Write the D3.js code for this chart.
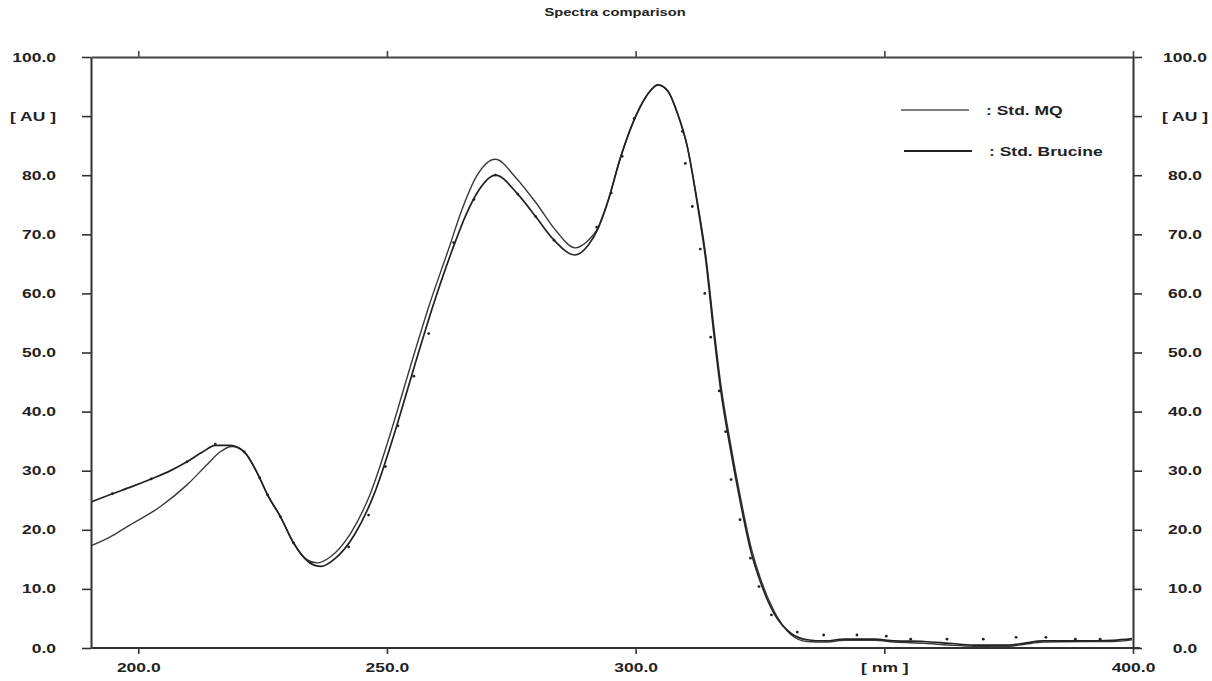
<!DOCTYPE html>
<html>
<head>
<meta charset="utf-8">
<script src="https://cdn.jsdelivr.net/npm/d3@7"></script>
<style>
	body { margin: 0; background: #fff; }
	svg { display: block; }
	text { font-family: "Liberation Sans", Arial, sans-serif; fill: #222; }
</style>
</head>
<body>
<svg id="chart" width="1212" height="681"></svg>
<script>
"use strict";

// Std. Brucine (the curve with the sample dots)
var brucineNm = [190.5, 194.8, 198.7, 202.6, 206.0, 209.8, 213.0, 215.5, 218.5, 221.3, 224.4, 226.0, 228.6, 231.2, 234.2, 236.8, 239.4, 243.5, 247.5, 251.5, 255.5, 259.3, 263.2, 266.0, 268.5, 271.8, 276.3, 279.9, 283.6, 287.8, 290.5, 292.3, 294.3, 297.0, 300.3, 302.5, 304.5, 306.5, 308.4, 310.4, 312.4, 314.1, 315.8, 317.1, 319.1, 321.1, 323.1, 325.2, 327.8, 331.2, 334.5, 338, 342, 348, 352, 358, 363, 368, 375, 378, 382, 390, 396, 400];
var brucineAU = [24.7, 26.1, 27.3, 28.6, 29.8, 31.5, 33.2, 34.3, 34.3, 33.2, 28.8, 25.9, 22.2, 17.8, 14.6, 13.8, 15.0, 19.2, 26.2, 36.3, 47.6, 58.0, 67.5, 73.5, 77.5, 80.0, 76.8, 73.0, 69.0, 66.5, 68.2, 70.7, 75.2, 83.1, 90.5, 93.8, 95.3, 94.2, 90.5, 84.8, 75.2, 65.7, 52.7, 43.7, 33.5, 24.5, 16.6, 10.9, 5.9, 2.5, 1.4, 1.2, 1.5, 1.5, 1.2, 1.1, 0.8, 0.5, 0.5, 0.8, 1.2, 1.2, 1.3, 1.6];

// Std. MQ
var mqNm = [190.5, 194.4, 197.7, 204.4, 209.8, 213.8, 216.5, 218.8, 221.3, 224.4, 226.0, 228.6, 231.2, 234.0, 236.0, 238.6, 242.7, 246.7, 250.7, 254.7, 258.5, 262.4, 265.0, 268.0, 271.8, 276.0, 280.0, 284.0, 287.8, 290.5, 292.3, 294.3, 297.0, 300.3, 302.5, 304.5, 306.5, 308.4, 310.4, 312.4, 314.1, 315.8, 317.1, 319.1, 321.1, 323.1, 325.2, 327.8, 331.2, 334.5, 338, 342, 348, 352, 358, 363, 368, 375, 378, 382, 390, 396, 400];
var mqAU = [17.3, 18.8, 20.5, 23.9, 27.6, 31.0, 33.2, 34.1, 33.2, 28.8, 25.9, 22.2, 17.8, 14.9, 14.4, 15.4, 19.4, 26.2, 36.3, 47.6, 58.0, 67.5, 74.0, 79.8, 82.7, 79.5, 75.3, 70.6, 67.7, 69.0, 70.9, 75.3, 83.1, 90.5, 93.8, 95.3, 94.2, 90.5, 84.8, 75.6, 66.5, 53.8, 44.8, 34.5, 25.4, 17.4, 11.5, 6.3, 2.3, 1.1, 1.0, 1.3, 1.3, 1.0, 0.8, 0.5, 0.3, 0.3, 0.6, 1.0, 1.1, 1.1, 1.4];

// sample dots
var dotNm = [194.8, 202.6, 209.8, 215.5, 221.3, 224.4, 226.0, 228.6, 231.2, 234.6, 242.3, 246.3, 249.7, 252.2, 255.4, 258.4, 263.4, 267.5, 271.8, 276.3, 279.9, 283.6, 292.2, 295.1, 297.3, 299.7, 309.4, 310.0, 311.4, 313.0, 313.9, 315.1, 316.8, 318.1, 319.2, 321.0, 323.1, 324.8, 327.3, 332.5, 337.8, 344.5, 350.4, 355.3, 362.6, 369.9, 376.5, 382.5, 388.4, 393.4];
var dotAU = [26.1, 28.6, 31.5, 34.5, 33.2, 28.8, 25.9, 22.2, 17.8, 14.4, 17.1, 22.5, 30.7, 37.6, 46.0, 53.2, 68.6, 75.9, 80.0, 76.8, 73.0, 69.0, 71.2, 77.0, 83.2, 89.6, 87.4, 82.0, 74.7, 67.5, 60.0, 52.6, 43.5, 36.6, 28.5, 21.7, 15.2, 10.4, 5.6, 2.7, 2.2, 2.2, 2.0, 1.5, 1.5, 1.5, 1.8, 1.8, 1.5, 1.5];

var xTicks = [200, 250, 300, 350, 400];
var xTickLabels = ["200.0", "250.0", "300.0", "[ nm ]", "400.0"];
var yTicks = [0, 10, 20, 30, 40, 50, 60, 70, 80, 90, 100];
var yTickLabels = ["0.0", "10.0", "20.0", "30.0", "40.0", "50.0", "60.0", "70.0", "80.0", "[ AU ]", "100.0"];

var legendNames = [": Std. MQ", ": Std. Brucine"];

var SX = 1.4; // the picture is stretched sideways

var svg = d3.select("#chart");
var x = d3.scaleLinear().domain([190.5, 400]).range([91, 1133]);
var y = d3.scaleLinear().domain([0, 100]).range([648, 57]);

function zip(a, b) { return a.map((v, i) => [v, b[i]]); }

// title
svg.append("text")
   .attr("transform", "translate(615,16) scale(" + SX + ",1)")
   .attr("text-anchor", "middle")
   .style("font-size", "10.5px")
   .style("font-weight", "bold")
   .text("Spectra comparison");

// axes
function styleAxis(g, w, col) {
	g.select(".domain").attr("stroke", col).attr("stroke-width", w);
	g.selectAll(".tick line").attr("stroke", col).attr("stroke-width", 1.6);
	g.selectAll(".tick text")
	 .style("font-size", "12.5px")
	 .style("font-weight", "bold")
	 .attr("fill", "#222");
}

var gl = svg.append("g").attr("transform", "translate(91,0)")
	.call(d3.axisLeft(y).tickValues(yTicks).tickSize(9).tickSizeOuter(0)
	        .tickFormat((d, i) => yTickLabels[i]));
styleAxis(gl, 2, "#333");
gl.selectAll(".tick text")
  .attr("x", -35 / SX)
  .attr("transform", "scale(" + SX + ",1)");

var gr = svg.append("g").attr("transform", "translate(1133,0)")
	.call(d3.axisRight(y).tickValues(yTicks).tickSize(9).tickSizeOuter(0)
	        .tickFormat((d, i) => yTickLabels[i]));
styleAxis(gr, 2, "#333");
gr.selectAll(".tick text")
  .attr("x", 52 / SX)
  .attr("text-anchor", "middle")
  .attr("transform", "scale(" + SX + ",1)");

var gt = svg.append("g").attr("transform", "translate(0,57)")
	.call(d3.axisTop(x).tickValues(xTicks).tickSize(6).tickSizeOuter(0).tickFormat(""));
styleAxis(gt, 1.8, "#444");

var gb = svg.append("g").attr("transform", "translate(0,648)")
	.call(d3.axisBottom(x).tickValues(xTicks).tickSize(6).tickSizeOuter(0)
	        .tickFormat((d, i) => xTickLabels[i]));
styleAxis(gb, 2, "#333");
gb.select(".domain").attr("d", "M91,0H1140");
gb.selectAll(".tick text")
  .attr("y", 15)
  .attr("transform", "scale(" + SX + ",1)");

// curves
svg.append("clipPath").attr("id", "plot")
   .append("rect").attr("x", 92).attr("y", 50).attr("width", 1040).attr("height", 597);

var line = d3.line().x(d => x(d[0])).y(d => y(d[1])).curve(d3.curveMonotoneX);
var curves = svg.append("g").attr("clip-path", "url(#plot)");

curves.append("path")
	.datum(zip(mqNm, mqAU))
	.attr("d", line)
	.attr("fill", "none")
	.attr("stroke", "#3a3a3a")
	.attr("stroke-width", 1.4);

curves.append("path")
	.datum(zip(brucineNm, brucineAU))
	.attr("d", line)
	.attr("fill", "none")
	.attr("stroke", "#222")
	.attr("stroke-width", 1.7);

curves.selectAll("circle")
	.data(zip(dotNm, dotAU))
	.enter()
	.append("circle")
	.attr("cx", d => x(d[0]))
	.attr("cy", d => y(d[1]))
	.attr("r", 1.4)
	.attr("fill", "#222");

// legend
var leg = svg.append("g");
var legY = [110, 151];
var legX = [901, 904];
var legW = [1.4, 2];
var legC = ["#555", "#222"];
legendNames.forEach(function(name, i) {
	leg.append("line")
	   .attr("x1", legX[i]).attr("x2", legX[i] + 68)
	   .attr("y1", legY[i]).attr("y2", legY[i])
	   .attr("stroke", legC[i]).attr("stroke-width", legW[i]);
	leg.append("text")
	   .attr("transform", "translate(" + (legX[i] + 85) + "," + (legY[i] + 5) + ") scale(" + SX + ",1)")
	   .style("font-size", "12.5px")
	   .style("font-weight", "bold")
	   .text(name);
});
</script>
</body>
</html>
